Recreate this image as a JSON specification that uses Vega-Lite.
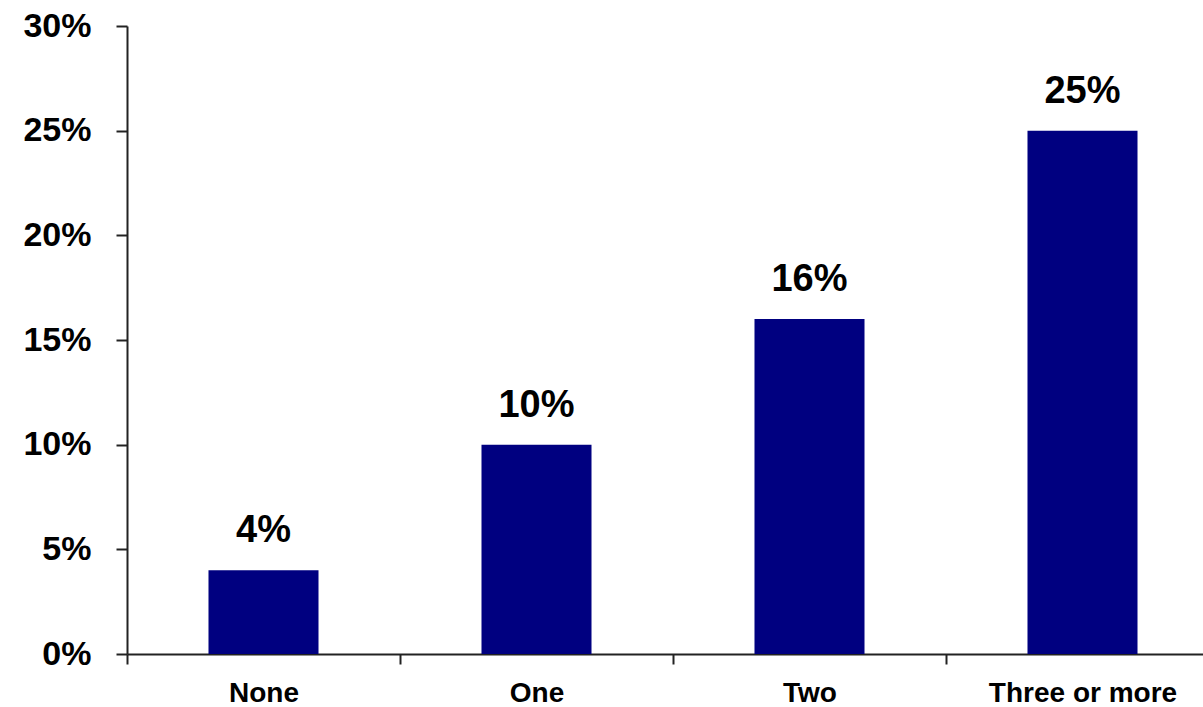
{
  "$schema": "https://vega.github.io/schema/vega-lite/v6.json",
  "width": 1076,
  "height": 628,
  "autosize": {"type": "none"},
  "padding": {"left": 127, "top": 26, "right": 0, "bottom": 53},
  "background": "white",
  "config": {
    "view": {"stroke": null},
    "font": "Liberation Sans"
  },
  "data": {
    "values": [
      {"group": "None", "share": 0.04},
      {"group": "One", "share": 0.10},
      {"group": "Two", "share": 0.16},
      {"group": "Three or more", "share": 0.25}
    ]
  },
  "encoding": {
    "x": {
      "field": "group",
      "type": "nominal",
      "sort": null,
      "scale": {"range": [0, 1092], "paddingInner": 0, "paddingOuter": 0},
      "axis": {
        "title": null,
        "labelAngle": 0,
        "labelLimit": 0,
        "labelFont": "Liberation Sans",
        "labelFontWeight": "bold",
        "labelFontSize": 28,
        "labelColor": "black",
        "labelPadding": 15,
        "tickBand": "extent",
        "tickSize": 10,
        "tickColor": "#222222",
        "tickWidth": 2,
        "domainColor": "#222222",
        "domainWidth": 2,
        "grid": false
      }
    },
    "y": {
      "field": "share",
      "type": "quantitative",
      "scale": {"domain": [0, 0.3], "nice": false},
      "axis": {
        "title": null,
        "values": [0, 0.05, 0.1, 0.15, 0.2, 0.25, 0.3],
        "format": ".0%",
        "labelFont": "Liberation Sans",
        "labelFontWeight": "bold",
        "labelFontSize": 34,
        "labelColor": "black",
        "labelPadding": 25,
        "tickSize": 11,
        "tickColor": "#222222",
        "tickWidth": 2,
        "domainColor": "#222222",
        "domainWidth": 2,
        "grid": false
      }
    }
  },
  "layer": [
    {"mark": {"type": "bar", "color": "#000080", "width": {"band": 0.403}}},
    {
      "mark": {
        "type": "text",
        "baseline": "alphabetic",
        "dy": -28,
        "font": "Liberation Sans",
        "fontWeight": "bold",
        "fontSize": 38,
        "color": "black"
      },
      "encoding": {"text": {"field": "share", "type": "quantitative", "format": ".0%"}}
    }
  ]
}
